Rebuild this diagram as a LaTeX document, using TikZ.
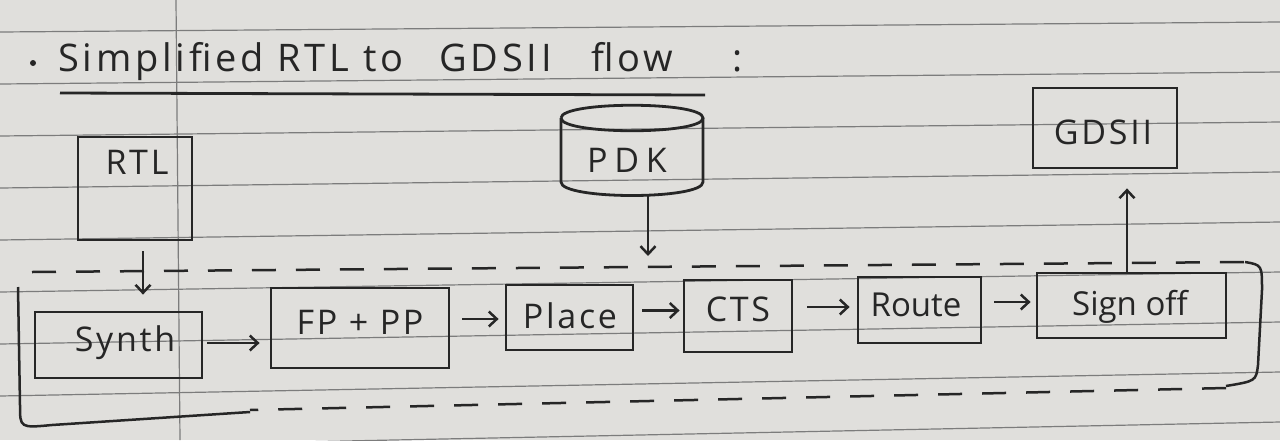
\documentclass[tikz,border=0pt]{standalone}
\usepackage{fontspec}
\setmainfont{Open Sans}
\usetikzlibrary{arrows.meta}
\definecolor{paper}{HTML}{E0DFDC}
\definecolor{rulecol}{HTML}{7C7C7C}
\definecolor{ink}{HTML}{262626}
\begin{document}
\begin{tikzpicture}[x=1pt,y=-1pt,
  pen/.style={draw=ink,line width=2.8pt},
  stagebox/.style={pen,rectangle,inner sep=0pt,minimum width=#1},
  lbl/.style={text=ink,font=\fontsize{34}{38}\selectfont\addfontfeature{LetterSpace=8},inner sep=0pt},
  arr/.style={pen,line width=2.5pt,-{Straight Barb[length=8pt,width=15pt,line width=2.5pt]}},
  regiondash/.style={pen,line width=2.5pt,dash pattern=on 24pt off 20pt},
  ruling/.style={draw=rulecol,line width=1.2pt}]
% paper
\fill[paper] (0,0) rectangle (1280,440);
\useasboundingbox (0,0) rectangle (1280,440);
\foreach \k in {0,...,8}{
  \draw[ruling] (0,{32+52*\k}) -- (1280,{22+50*\k});
}
\draw[ruling] (176,0) -- (180,440);

% title
\node[circle,fill=ink,inner sep=0pt,minimum size=6pt] (bullet) at (33,63) {};
\node[lbl,anchor=west,font=\fontsize{38}{42}\selectfont\addfontfeature{LetterSpace=10}] (title) at (58,62) {Simplified RTL to\hspace{22pt} GDSII\hspace{26pt} flow\hspace{46pt} :};
\draw[pen] (60,93) -- (705,95);

% boxes
\node[stagebox=114pt,minimum height=103pt] (rtl) at (135,188.5) {};
\node[lbl] (rtltxt) at (137,162) {RTL};

\node[stagebox=167pt,minimum height=66pt] (synth) at (118.5,345) {};
\node[lbl] (synthtxt) at (125,343) {Synth};

\node[stagebox=178pt,minimum height=80pt] (fppp) at (360,328) {};
\node[lbl] (fppptxt) at (360,322) {FP + PP};

\node[stagebox=127pt,minimum height=65pt] (place) at (569.5,317.5) {};
\node[lbl] (placetxt) at (570,316) {Place};

\node[stagebox=108pt,minimum height=72pt] (cts) at (738,316) {};
\node[lbl] (ctstxt) at (738,309) {CTS};

\node[stagebox=123pt,minimum height=66pt] (route) at (919.5,310) {};
\node[lbl,font=\fontsize{33}{38}\selectfont] (routetxt) at (916,305) {Route};

\node[stagebox=189pt,minimum height=65pt] (signoff) at (1131.5,305.5) {};
\node[lbl,font=\fontsize{33}{38}\selectfont] (signofftxt) at (1130,307) {Sign off};

\node[stagebox=144pt,minimum height=80pt] (gds) at (1105,128) {};
\node[lbl] (gdstxt) at (1103,132) {GDSII};

% PDK cylinder
\draw[pen] (561,118) .. controls (561,101) and (703,101) .. (703,118)
  .. controls (703,135) and (561,135) .. (561,118);
\draw[pen] (561,118) -- (561,182) .. controls (561,200) and (703,200) .. (703,182) -- (703,118);
\node[lbl,font=\fontsize{34}{38}\selectfont\addfontfeature{LetterSpace=20}] (pdktxt) at (627,160) {PDK};
\coordinate (pdkbot) at (648,194);

% flow region
\draw[regiondash] (32,272) -- (1245,262);
\draw[pen,line width=2.5pt] (1245,262) .. controls (1262,265) .. (1262,290) -- (1258,365) .. controls (1256,381) .. (1226,386);
\draw[regiondash] (1226,388) -- (250,410);
\draw[pen,line width=2.5pt] (250,412) -- (52,425) .. controls (20,428) .. (20,405) -- (18,287);
\coordinate (pdkin) at (648,256);

% connectors
\draw[arr,shorten <=10pt,shorten >=16pt] ([xshift=8pt]rtl.south) -- ([xshift=24.5pt]synth.north);
\draw[arr,shorten <=4pt,shorten >=10pt] ([yshift=2pt]synth.east) -- ([yshift=2pt]synth.east -| fppp.west);
\draw[arr,shorten <=12pt,shorten >=6pt] ([yshift=9pt]fppp.east) -- ([yshift=9pt]fppp.east -| place.west);
\draw[arr,shorten <=8pt,shorten >=3pt] ([yshift=7pt]place.east) -- ([yshift=7pt]place.east -| cts.west);
\draw[arr,shorten <=14pt,shorten >=7pt] ([yshift=9pt]cts.east) -- ([yshift=9pt]cts.east -| route.west);
\draw[arr,shorten <=12pt,shorten >=5pt] ([yshift=8pt]route.east) -- ([yshift=8pt]route.east -| signoff.west);
\draw[arr,shorten <=0pt,shorten >=19pt] ([xshift=-4.5pt]signoff.north) -- ([xshift=-4.5pt]signoff.north |- gds.south);
\draw[arr] (pdkbot) -- (pdkin);
\end{tikzpicture}
\end{document}
